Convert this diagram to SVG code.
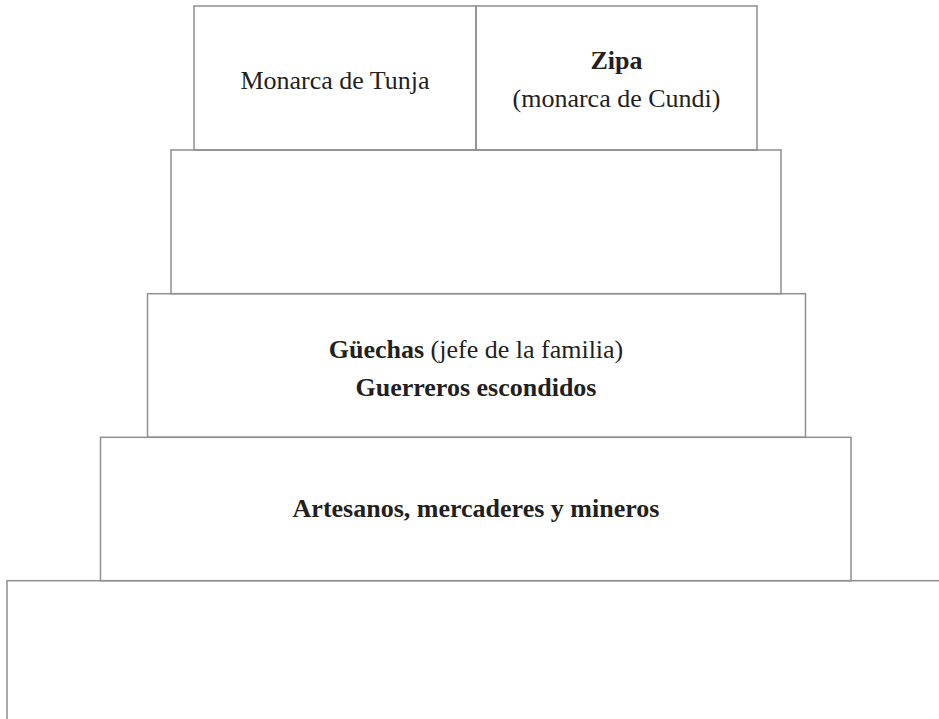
<svg xmlns="http://www.w3.org/2000/svg" width="939" height="719" viewBox="0 0 939 719">
  <style>
    .box { fill: none; stroke: #8f8f8f; stroke-width: 1.5; }
    .t { font-family: "Liberation Serif", "Times New Roman", serif; font-size: 26px; fill: #231f20; text-anchor: middle; }
    .b { font-weight: bold; }
  </style>
  <rect width="939" height="719" fill="#ffffff"/>
  <g id="base">
    <rect class="box" x="7" y="580.7" width="960" height="200"/>
  </g>
  <g id="artesanos">
    <rect class="box" x="100.5" y="437.3" width="750.5" height="143.4"/>
    <text class="t b" x="476" y="517">Artesanos, mercaderes y mineros</text>
  </g>
  <g id="guechas">
    <rect class="box" x="147.5" y="293.7" width="658" height="143.6"/>
    <text class="t" x="476" y="358"><tspan class="b">Güechas</tspan> (jefe de la familia)</text>
    <text class="t b" x="476" y="396">Guerreros escondidos</text>
  </g>
  <g id="nivel2">
    <rect class="box" x="171" y="150" width="610" height="143.7"/>
  </g>
  <g id="monarca-tunja">
    <rect class="box" x="194" y="6" width="282" height="144"/>
    <text class="t" x="335" y="89">Monarca de Tunja</text>
  </g>
  <g id="zipa">
    <rect class="box" x="476" y="6" width="281" height="144"/>
    <text class="t b" x="616.5" y="69">Zipa</text>
    <text class="t" x="616.5" y="107">(monarca de Cundi)</text>
  </g>
  <g id="connectors"></g>
</svg>
